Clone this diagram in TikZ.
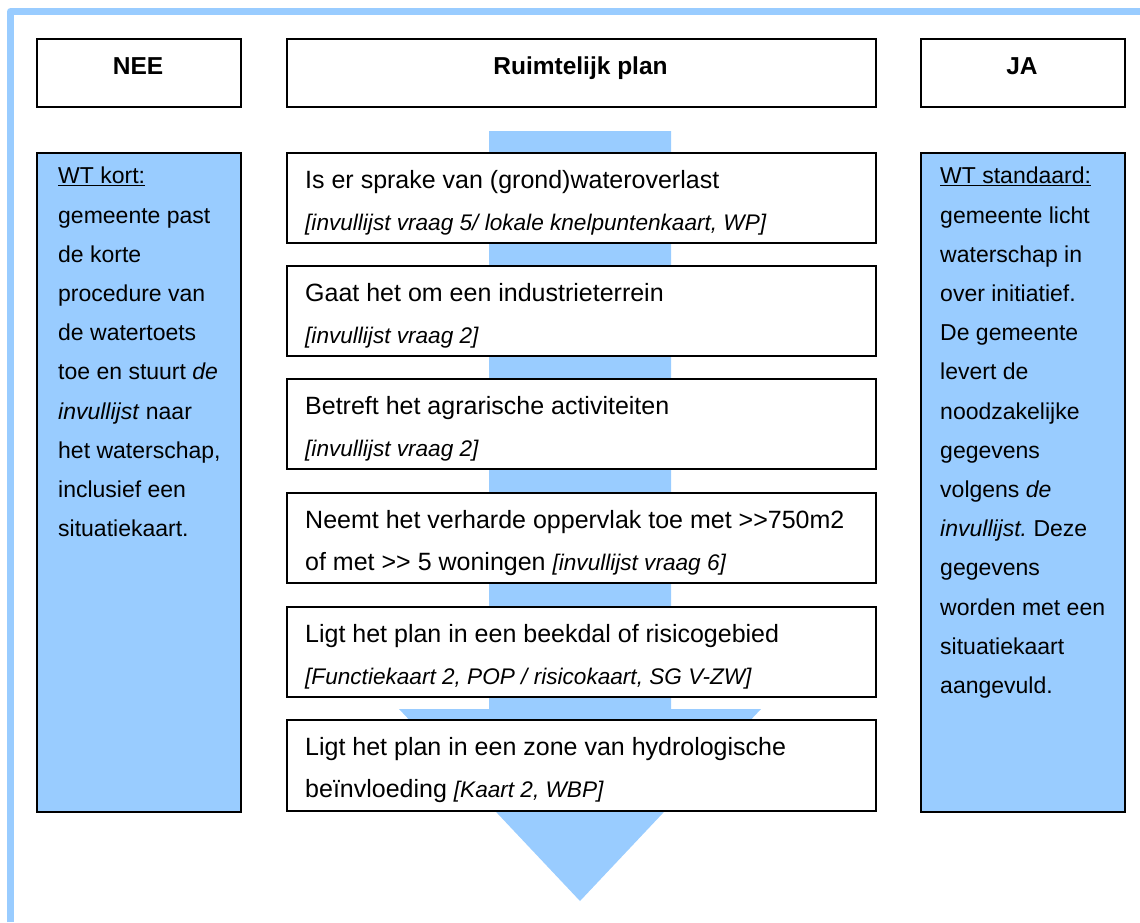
\documentclass[tikz,border=0pt]{standalone}
\usepackage{fontspec}
\setmainfont{Liberation Sans}
\definecolor{lb}{HTML}{99CCFF}
\begin{document}
\begin{tikzpicture}[x=1pt,y=-1pt,
  box/.style={draw=black, line width=1.5pt, fill=white, anchor=north west, inner sep=0pt},
  bluebox/.style={draw=black, line width=1.5pt, fill=lb, anchor=north west, inner sep=0pt},
  maintxt/.style={font=\fontsize{25}{30}\selectfont, anchor=base west, inner sep=0pt},
  itxt/.style={font=\fontsize{22.6}{28}\selectfont\itshape, anchor=base west, inner sep=0pt},
  hdr/.style={font=\fontsize{24.5}{28}\selectfont\bfseries, anchor=base, inner sep=0pt},
  side/.style={font=\fontsize{23}{39.2}\selectfont, align=left, anchor=north west, inner sep=0pt}]

\useasboundingbox (0,0) rectangle (1140,922);

% outer frame
\draw[lb, line width=7pt, line join=round] (10.5,922) -- (10.5,11.5) -- (1140,11.5);

% big arrow
\fill[lb] (489,131) -- (671,131) -- (671,709) -- (761,709) -- (580,901) -- (399,709) -- (489,709) -- cycle;

% headers
\node[box, minimum width=204pt, minimum height=68pt] (nee) at (36,38) {};
\node[hdr] (neet) at (138,74.5) {NEE};
\node[box, minimum width=589pt, minimum height=68pt] (plan) at (286,38) {};
\node[hdr] (plant) at (580.5,74.5) {Ruimtelijk plan};
\node[box, minimum width=204pt, minimum height=68pt] (ja) at (920,38) {};
\node[hdr] (jat) at (1022,74.5) {JA};

% side boxes
\node[bluebox, minimum width=204pt, minimum height=659pt] (kort) at (36,152) {};
\node[side] (kortt) at (58,167) {\underline{WT kort:}\\
gemeente past\\
de korte\\
procedure van\\
de watertoets\\
toe en stuurt \textit{de}\\
\textit{invullijst} naar\\
het waterschap,\\
inclusief een\\
situatiekaart.};

\node[bluebox, minimum width=204pt, minimum height=659pt] (std) at (920,152) {};
\node[side] (stdt) at (940,167) {\underline{WT standaard:}\\
gemeente licht\\
waterschap in\\
over initiatief.\\
De gemeente\\
levert de\\
noodzakelijke\\
gegevens\\
volgens \textit{de}\\
{\itshape invullijst.\/}~Deze\\
gegevens\\
worden met een\\
situatiekaart\\
aangevuld.};

% middle question boxes
\node[box, minimum width=589pt, minimum height=90pt] (q1) at (286,152) {};
\node[maintxt] (q1a) at (305,188) {Is er sprake van (grond)wateroverlast};
\node[itxt] (q1b) at (305,230) {[invullijst vraag 5/ lokale knelpuntenkaart, WP]};

\node[box, minimum width=589pt, minimum height=90pt] (q2) at (286,265) {};
\node[maintxt] (q2a) at (305,301) {Gaat het om een industrieterrein};
\node[itxt] (q2b) at (305,343) {[invullijst vraag 2]};

\node[box, minimum width=589pt, minimum height=90pt] (q3) at (286,378) {};
\node[maintxt] (q3a) at (305,414) {Betreft het agrarische activiteiten};
\node[itxt] (q3b) at (305,456) {[invullijst vraag 2]};

\node[box, minimum width=589pt, minimum height=90pt] (q4) at (286,492) {};
\node[maintxt] (q4a) at (305,528) {Neemt het verharde oppervlak toe met {>}{>}750m2};
\node[maintxt] (q4b) at (305,570) {of met {>}{>} 5 woningen {\fontsize{22.6}{28}\selectfont\itshape [invullijst vraag 6]}};

\node[box, minimum width=589pt, minimum height=90pt] (q5) at (286,606) {};
\node[maintxt] (q5a) at (305,642) {Ligt het plan in een beekdal of risicogebied};
\node[itxt] (q5b) at (305,684) {[Functiekaart 2, POP / risicokaart, SG V-ZW]};

\node[box, minimum width=589pt, minimum height=91pt] (q6) at (286,719) {};
\node[maintxt] (q6a) at (305,755) {Ligt het plan in een zone van hydrologische};
\node[maintxt] (q6b) at (305,797) {beïnvloeding {\fontsize{22.6}{28}\selectfont\itshape [Kaart 2, WBP]}};
\end{tikzpicture}
\end{document}
